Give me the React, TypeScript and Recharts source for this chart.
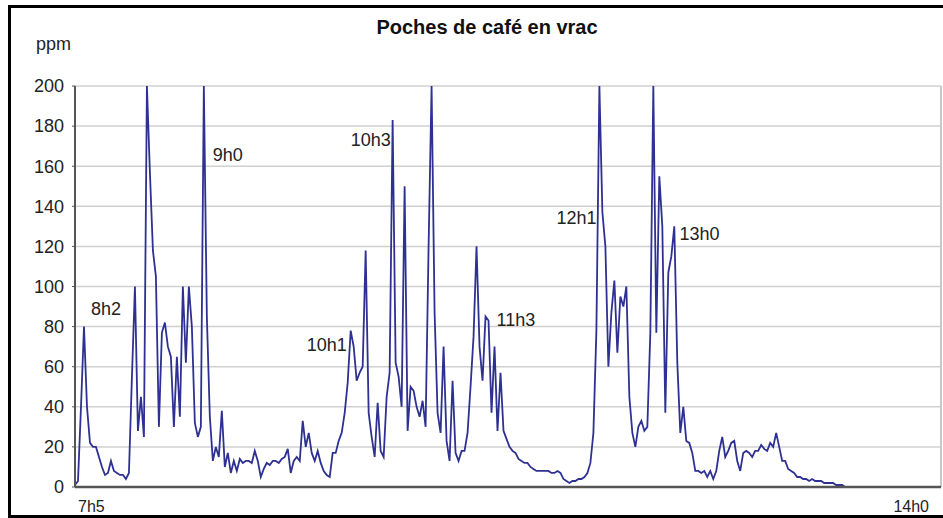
import { CartesianGrid, Line, LineChart, ReferenceDot, ReferenceLine, XAxis, YAxis } from "recharts";

// ppm readings, one every ~1.3 min from 7h50 to ~13h10
const debut = [1, 3, 40, 80, 40, 22, 20, 20, 15, 10, 6, 7, 13, 8, 7, 6, 6, 4, 7];
const vague9h = [
  55, 100, 28, 45, 25, 200, 157, 118, 105, 30, 77, 82, 70, 65, 30, 65, 35, 100, 62, 100, 80, 32, 25, 30,
  200, 85, 35, 13, 20, 15, 38, 10, 17, 7, 13, 8,
];
const creux = [
  14, 12, 13, 13, 12, 18, 13, 5, 9, 12, 11, 13, 13, 12, 14, 15, 19, 7, 13, 15, 13, 33, 20, 27, 17, 13, 18,
  12, 8, 6, 5, 17, 17, 23, 27,
];
const vague10h = [
  37, 52, 78, 70, 53, 57, 60, 118, 37, 25, 15, 42, 18, 15, 45, 57, 183, 62, 55, 40, 150, 28, 50, 48, 40, 35,
  43, 30, 120, 200, 87, 37, 27, 70, 23, 13, 53, 17, 13, 18, 18, 27, 50, 75, 120, 70, 53, 85, 83, 37, 70, 28,
  57, 28, 24, 20, 18, 17, 14, 13, 12, 12, 10, 9, 8, 8, 8, 8, 8, 7, 7, 8,
];
const vague12h = [
  7, 4, 3, 2, 3, 3, 4, 4, 5, 7, 12, 27, 78, 200, 137, 120, 60, 87, 103, 67, 95, 90, 100, 45, 27, 20, 30, 33,
  28, 30, 77, 200, 77, 155, 130, 37, 107, 115, 130, 62, 27, 40, 23, 22, 17, 8, 8, 7, 8, 5, 8, 4,
];
const fin = [
  8, 18, 25, 15, 18, 22, 23, 13, 8, 17, 18, 17, 15, 18, 18, 21, 19, 18, 22, 20, 27, 20, 13, 13, 9, 8, 7, 5,
  5, 4, 4, 3, 4, 3, 3, 3, 2, 2, 2, 2, 1, 1, 1, 0,
];

const readings = [...debut, ...vague9h, ...creux, ...vague10h, ...vague12h, ...fin];
const lastSlot = 289; // 14h00
const yTicks = [0, 20, 40, 60, 80, 100, 120, 140, 160, 180, 200];
const timeLabels = ["7h5", "14h0"];

// labels written on the chart: text, sample index, ppm
const notes = [
  { text: "8h2", t: 5.3, v: 89 },
  { text: "9h0", t: 46, v: 166 },
  { text: "10h1", t: 77.3, v: 71 },
  { text: "10h3", t: 92, v: 173.5 },
  { text: "11h3", t: 140.7, v: 83.5 },
  { text: "12h1", t: 160.7, v: 134.5 },
  { text: "13h0", t: 201.7, v: 126.5 },
];

const FONT = "'Liberation Sans', Arial, sans-serif";

function TimeTick(props: any) {
  const { x, y, index } = props;
  const first = index === 0;
  return (
    <text
      x={first ? x + 3 : x - 2}
      y={y + 17}
      textAnchor={first ? "start" : "end"}
      fontSize={16}
      fill="#222"
      fontFamily={FONT}
    >
      {timeLabels[index]}
    </text>
  );
}

export default function App() {
  const data = readings.map((v, i) => ({ i, v }));
  return (
    <div style={{ position: "fixed", left: 0, top: 0, width: 943, height: 518, background: "#fff", fontFamily: FONT, overflow: "hidden" }}>
      <div
        style={{
          position: "absolute",
          left: 8,
          top: 5,
          width: 945,
          height: 513,
          boxSizing: "border-box",
          border: "3px solid #000",
        }}
      />
      <div style={{ position: "absolute", left: 287, width: 400, top: 16, textAlign: "center", fontWeight: "bold", fontSize: 20, color: "#111" }}>
        Poches de café en vrac
      </div>
      <div style={{ position: "absolute", left: 36, top: 34, fontSize: 18, color: "#222" }}>ppm</div>
      <div style={{ position: "absolute", left: 0, top: 0 }}>
        <LineChart width={943} height={518} data={data} margin={{ top: 86, right: 2, bottom: 0, left: 0 }}>
          <CartesianGrid vertical={false} stroke="#d0d0d0" strokeWidth={1.5} />
          <ReferenceLine x={lastSlot} stroke="#c8c8c8" strokeWidth={2} />
          <XAxis
            type="number"
            dataKey="i"
            domain={[0, lastSlot]}
            ticks={[0, lastSlot]}
            height={31}
            axisLine={{ stroke: "#555", strokeWidth: 2.5 }}
            tickLine={false}
            tick={<TimeTick />}
          />
          <YAxis
            domain={[0, 200]}
            ticks={yTicks}
            width={75}
            allowDataOverflow
            tickSize={3}
            tickMargin={8}
            axisLine={{ stroke: "#555", strokeWidth: 2 }}
            tickLine={{ stroke: "#555" }}
            tick={{ fontSize: 18, fill: "#222", fontFamily: FONT }}
          />
          <Line type="linear" dataKey="v" stroke="#2e3192" strokeWidth={1.8} dot={false} isAnimationActive={false} />
          {notes.map((n) => (
            <ReferenceDot
              key={n.text}
              x={n.t}
              y={n.v}
              r={0}
              fill="none"
              stroke="none"
              label={{ value: n.text, position: "right", offset: 0, fontSize: 18, fill: "#222", fontFamily: FONT }}
            />
          ))}
        </LineChart>
      </div>
    </div>
  );
}
